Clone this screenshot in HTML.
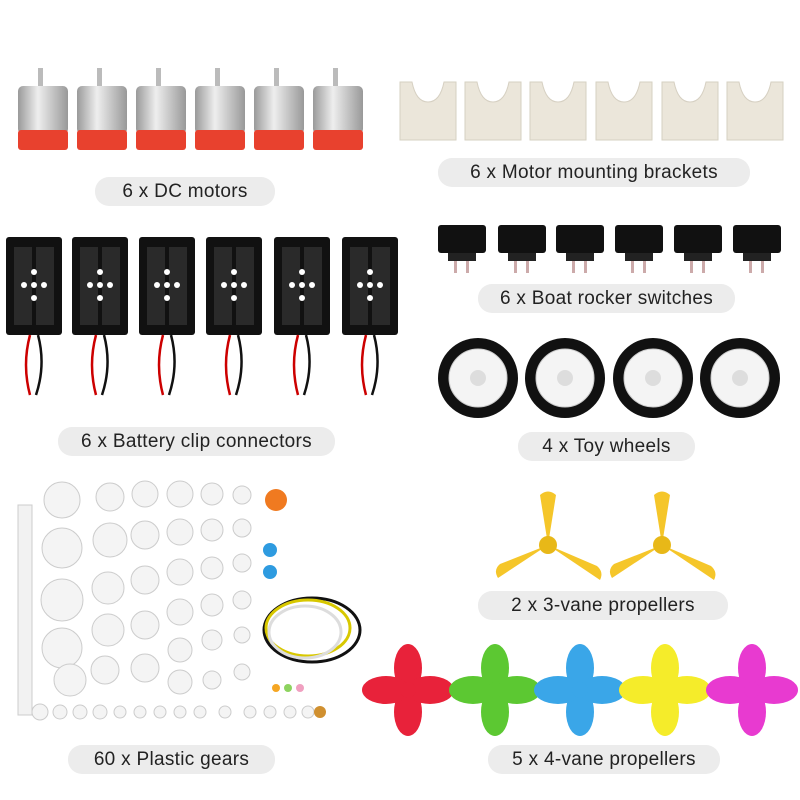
<!DOCTYPE html>
<html><head><meta charset="utf-8"><style>
body{margin:0;width:800px;height:800px;background:#fff;position:relative;overflow:hidden;font-family:"Liberation Sans",sans-serif}
.l{position:absolute;background:#ececec;border-radius:14px;font-size:19px;color:#222;text-align:center;line-height:29px;height:29px;letter-spacing:.3px}
.a{position:absolute}
</style></head><body>
<svg class="a" style="left:0;top:0" width="800" height="800">
<defs>
<linearGradient id="sil" x1="0" x2="1"><stop offset="0" stop-color="#9a9a9a"/><stop offset=".4" stop-color="#eee"/><stop offset="1" stop-color="#999"/></linearGradient>
</defs>
<!-- motors -->
<g id="m">
<rect x="38" y="68" width="5" height="20" fill="#bbb"/>
<rect x="18" y="86" width="50" height="48" rx="5" fill="url(#sil)"/>
<rect x="18" y="130" width="50" height="20" rx="3" fill="#e8412e"/>
</g>
<use href="#m" x="59"/><use href="#m" x="118"/><use href="#m" x="177"/><use href="#m" x="236"/><use href="#m" x="295"/>
<!-- brackets -->
<g id="b"><path d="M400 82 h12 q4 20 16 20 q12 0 16 -20 h12 v58 h-56z" fill="#ebe6da" stroke="#d6d0c2"/></g>
<use href="#b" x="65"/><use href="#b" x="130"/><use href="#b" x="196"/><use href="#b" x="262"/><use href="#b" x="327"/>
<!-- battery holders -->
<g id="bt">
<rect x="6" y="237" width="56" height="98" rx="3" fill="#111"/>
<rect x="14" y="247" width="18" height="78" fill="#2a2a2a"/><rect x="36" y="247" width="18" height="78" fill="#2a2a2a"/>
<circle cx="34" cy="285" r="3" fill="#fff"/><circle cx="24" cy="285" r="3" fill="#fff"/><circle cx="44" cy="285" r="3" fill="#fff"/><circle cx="34" cy="272" r="3" fill="#fff"/><circle cx="34" cy="298" r="3" fill="#fff"/>
<path d="M30 335 q-8 30 0 60" stroke="#c00" stroke-width="2.5" fill="none"/>
<path d="M38 335 q8 30 -2 60" stroke="#111" stroke-width="2.5" fill="none"/>
</g>
<use href="#bt" x="66"/><use href="#bt" x="133"/><use href="#bt" x="200"/><use href="#bt" x="268"/><use href="#bt" x="336"/>
<!-- switches -->
<g id="s"><rect x="438" y="225" width="48" height="28" rx="3" fill="#111"/><rect x="448" y="253" width="28" height="8" fill="#222"/><rect x="454" y="261" width="3" height="12" fill="#caa"/><rect x="466" y="261" width="3" height="12" fill="#caa"/></g>
<use href="#s" x="60"/><use href="#s" x="118"/><use href="#s" x="177"/><use href="#s" x="236"/><use href="#s" x="295"/>
<!-- wheels -->
<g id="w"><circle cx="478" cy="378" r="40" fill="#111"/><circle cx="478" cy="378" r="29" fill="#f4f4f4" stroke="#ccc"/><circle cx="478" cy="378" r="8" fill="#ddd"/></g>
<use href="#w" x="87"/><use href="#w" x="175"/><use href="#w" x="262"/>
<!-- gears -->
<rect x="18" y="505" width="14" height="210" fill="#f2f2f2" stroke="#ccc"/>
<g fill="#f4f4f4" stroke="#ccc">
<circle cx="62" cy="500" r="18"/><circle cx="110" cy="497" r="14"/><circle cx="145" cy="494" r="13"/><circle cx="180" cy="494" r="13"/><circle cx="212" cy="494" r="11"/><circle cx="242" cy="495" r="9"/>
<circle cx="62" cy="548" r="20"/><circle cx="110" cy="540" r="17"/><circle cx="145" cy="535" r="14"/><circle cx="180" cy="532" r="13"/><circle cx="212" cy="530" r="11"/><circle cx="242" cy="528" r="9"/>
<circle cx="62" cy="600" r="21"/><circle cx="108" cy="588" r="16"/><circle cx="145" cy="580" r="14"/><circle cx="180" cy="572" r="13"/><circle cx="212" cy="568" r="11"/><circle cx="242" cy="563" r="9"/>
<circle cx="62" cy="648" r="20"/><circle cx="108" cy="630" r="16"/><circle cx="145" cy="625" r="14"/><circle cx="180" cy="612" r="13"/><circle cx="212" cy="605" r="11"/><circle cx="242" cy="600" r="9"/>
<circle cx="70" cy="680" r="16"/><circle cx="105" cy="670" r="14"/><circle cx="145" cy="668" r="14"/><circle cx="180" cy="650" r="12"/><circle cx="212" cy="640" r="10"/><circle cx="242" cy="635" r="8"/>
<circle cx="180" cy="682" r="12"/><circle cx="212" cy="680" r="9"/><circle cx="242" cy="672" r="8"/>
<circle cx="40" cy="712" r="8"/><circle cx="60" cy="712" r="7"/><circle cx="80" cy="712" r="7"/><circle cx="100" cy="712" r="7"/><circle cx="120" cy="712" r="6"/><circle cx="140" cy="712" r="6"/><circle cx="160" cy="712" r="6"/><circle cx="180" cy="712" r="6"/><circle cx="200" cy="712" r="6"/><circle cx="225" cy="712" r="6"/><circle cx="250" cy="712" r="6"/><circle cx="270" cy="712" r="6"/><circle cx="290" cy="712" r="6"/><circle cx="308" cy="712" r="6"/>
</g>
<circle cx="276" cy="500" r="11" fill="#f07a20"/>
<circle cx="270" cy="550" r="7" fill="#2e9be0"/><circle cx="270" cy="572" r="7" fill="#2e9be0"/>
<circle cx="276" cy="688" r="4" fill="#f5a623"/><circle cx="288" cy="688" r="4" fill="#8dd35f"/><circle cx="300" cy="688" r="4" fill="#f0a0c0"/><circle cx="320" cy="712" r="6" fill="#d09030"/>
<ellipse cx="312" cy="630" rx="48" ry="32" fill="none" stroke="#111" stroke-width="3"/>
<ellipse cx="308" cy="628" rx="42" ry="28" fill="none" stroke="#d8c800" stroke-width="3"/>
<ellipse cx="305" cy="632" rx="36" ry="26" fill="none" stroke="#ddd" stroke-width="3"/>
<!-- 3-vane propellers -->
<g id="p3" fill="#f5c62a"><path d="M548 545 L540 495 Q548 488 556 495z"/><path d="M548 545 L498 578 Q493 570 500 564z"/><path d="M548 545 L600 580 Q604 572 597 566z"/><circle cx="548" cy="545" r="9" fill="#e8b818"/></g>
<use href="#p3" x="114"/>
<!-- 4-vane propellers -->
<g id="p4"><g fill="#e8223a"><ellipse cx="408" cy="668" rx="14" ry="24"/><ellipse cx="408" cy="712" rx="14" ry="24"/><ellipse cx="386" cy="690" rx="24" ry="14"/><ellipse cx="430" cy="690" rx="24" ry="14"/><circle cx="408" cy="690" r="8"/></g></g>
<g transform="translate(87 0)" fill="#5cc832"><ellipse cx="408" cy="668" rx="14" ry="24"/><ellipse cx="408" cy="712" rx="14" ry="24"/><ellipse cx="386" cy="690" rx="24" ry="14"/><ellipse cx="430" cy="690" rx="24" ry="14"/><circle cx="408" cy="690" r="8"/></g>
<g transform="translate(172 0)" fill="#3aa6e8"><ellipse cx="408" cy="668" rx="14" ry="24"/><ellipse cx="408" cy="712" rx="14" ry="24"/><ellipse cx="386" cy="690" rx="24" ry="14"/><ellipse cx="430" cy="690" rx="24" ry="14"/><circle cx="408" cy="690" r="8"/></g>
<g transform="translate(257 0)" fill="#f5ec2a"><ellipse cx="408" cy="668" rx="14" ry="24"/><ellipse cx="408" cy="712" rx="14" ry="24"/><ellipse cx="386" cy="690" rx="24" ry="14"/><ellipse cx="430" cy="690" rx="24" ry="14"/><circle cx="408" cy="690" r="8"/></g>
<g transform="translate(344 0)" fill="#e83ad0"><ellipse cx="408" cy="668" rx="14" ry="24"/><ellipse cx="408" cy="712" rx="14" ry="24"/><ellipse cx="386" cy="690" rx="24" ry="14"/><ellipse cx="430" cy="690" rx="24" ry="14"/><circle cx="408" cy="690" r="8"/></g>
</svg>
<div class="l" style="left:95px;top:177px;width:180px">6 x DC motors</div>
<div class="l" style="left:438px;top:158px;width:312px">6 x Motor mounting brackets</div>
<div class="l" style="left:478px;top:284px;width:257px">6 x Boat rocker switches</div>
<div class="l" style="left:58px;top:427px;width:277px">6 x Battery clip connectors</div>
<div class="l" style="left:518px;top:432px;width:177px">4 x Toy wheels</div>
<div class="l" style="left:478px;top:591px;width:250px">2 x 3-vane propellers</div>
<div class="l" style="left:68px;top:745px;width:207px">60 x Plastic gears</div>
<div class="l" style="left:488px;top:745px;width:232px">5 x 4-vane propellers</div>
</body></html>
